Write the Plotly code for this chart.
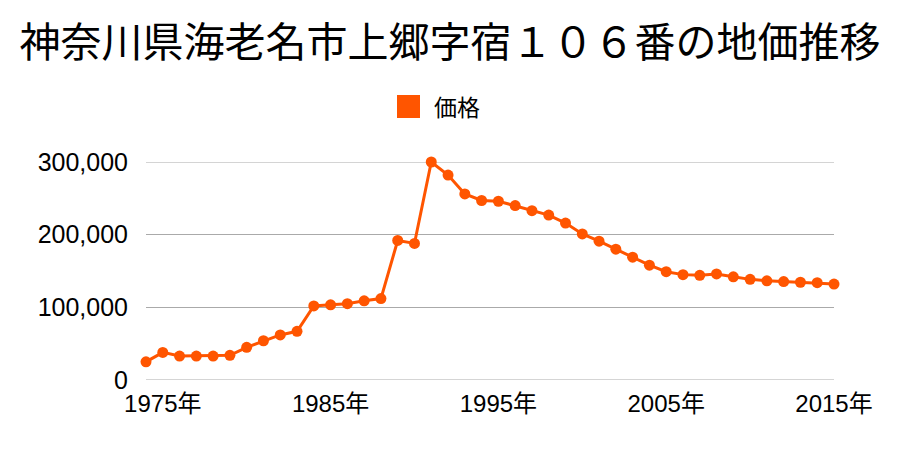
import plotly.graph_objects as go

years = list(range(1974, 2016))
prices = [25000, 38000, 33000, 33000, 33000, 34000, 45000, 54000, 62000, 67000,
          102000, 103500, 105000, 109000, 112000, 192000, 188000, 300000, 282000, 256000,
          247000, 246000, 240000, 233000, 227000, 216000, 201000, 191000, 180000, 169000,
          158000, 149000, 145000, 144000, 146000, 142000, 138500, 136500, 135500, 134500,
          134000, 132000]
tick_years = [1975, 1985, 1995, 2005, 2015]
tick_text = [f"{y}年" for y in tick_years]
y_ticks = [0, 100000, 200000, 300000]
y_text = ["0", "100,000", "200,000", "300,000"]
title = "神奈川県海老名市上郷字宿１０６番の地価推移"
series_name = "価格"

COLOR = "#ff5500"
GRID = "#aaaaaa"
FONT = "Noto Sans CJK JP"
TICKFONT = "Liberation Sans, Noto Sans CJK JP"

L, R, T, B = 146, 66, 162, 70
W, H = 900, 450
pw, ph = W - L - R, H - T - B

def px_x(p):
    return (p - L) / pw

def px_y(p):
    return (H - B - p) / ph

fig = go.Figure()
fig.add_trace(go.Scatter(
    x=years, y=prices, mode="lines+markers", name=series_name,
    line=dict(color=COLOR, width=3),
    marker=dict(color=COLOR, size=11),
    cliponaxis=False, showlegend=False,
))

# grid lines at the range edges (plotly skips those)
edge_lines = [dict(type="line", xref="paper", yref="y", x0=0, x1=1, y0=v, y1=v,
                   line=dict(color=GRID, width=1), layer="below")
              for v in (y_ticks[0], y_ticks[-1])]

fig.update_layout(
    width=W, height=H,
    margin=dict(l=L, r=R, t=T, b=B),
    paper_bgcolor="white", plot_bgcolor="white",
    font=dict(family=FONT, color="#000000"),
    title=dict(text=title, font=dict(size=41, family=FONT, color="#000"),
               x=0.5, xref="container", xanchor="center",
               y=1 - 43 / H, yref="container", yanchor="middle"),
    xaxis=dict(range=[1974, 2015], tickvals=tick_years, ticktext=tick_text,
               showgrid=False, zeroline=False, showline=False,
               ticks="outside", ticklen=2, tickcolor="rgba(0,0,0,0)",
               tickfont=dict(size=24, family=TICKFONT, color="#000")),
    yaxis=dict(range=[y_ticks[0], y_ticks[-1]], tickvals=y_ticks, ticktext=y_text,
               showgrid=True, gridcolor=GRID, gridwidth=1,
               zeroline=False, showline=False,
               ticks="outside", ticklen=12, tickcolor="rgba(0,0,0,0)",
               tickfont=dict(size=25, family=TICKFONT, color="#000")),
    shapes=edge_lines + [dict(type="rect", xref="paper", yref="paper",
                 x0=px_x(397), x1=px_x(420), y0=px_y(118), y1=px_y(95),
                 fillcolor=COLOR, line=dict(width=0))],
    annotations=[dict(text=series_name, xref="paper", yref="paper",
                      x=px_x(432), y=px_y(106), xanchor="left", yanchor="middle",
                      showarrow=False, font=dict(size=23, family=FONT, color="#000"))],
)

fig.write_html("out.html")
